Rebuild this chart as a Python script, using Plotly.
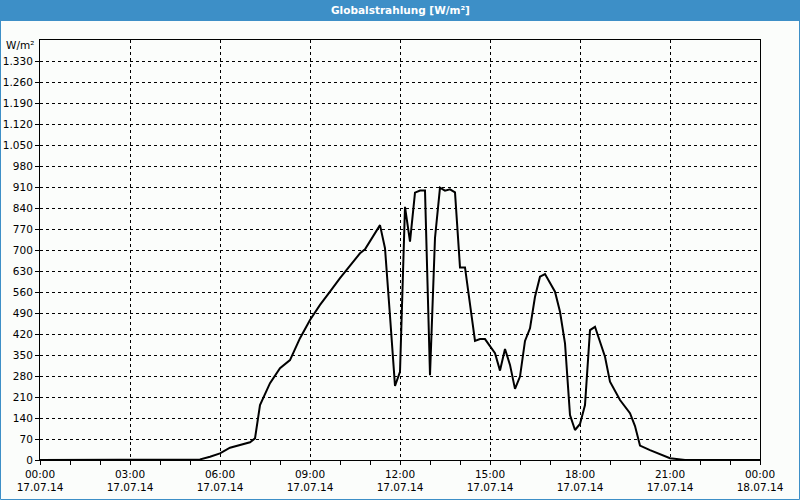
import plotly.graph_objects as go

# ---- data ----
times = ["00:00", "05:10", "05:20", "05:40", "06:00", "06:20", "07:00", "07:10", "07:20",
         "07:40", "08:00", "08:20", "08:40", "09:00", "09:20", "09:40", "10:00", "10:40",
         "10:50", "11:20", "11:30", "11:40", "11:50", "12:00", "12:10", "12:20", "12:30",
         "12:40", "12:50", "13:00", "13:10", "13:20", "13:30", "13:40", "13:50", "14:00",
         "14:10", "14:30", "14:40", "14:50", "15:10", "15:20", "15:30", "15:40", "15:50",
         "16:00", "16:10", "16:20", "16:30", "16:40", "16:50", "17:10", "17:20", "17:30",
         "17:40", "17:50", "18:00", "18:10", "18:20", "18:30", "18:50", "19:00", "19:20",
         "19:40", "19:50", "20:00", "20:20", "21:00", "21:20", "21:30"]
values = [0, 0, 2, 11, 22, 41, 59, 72, 183,
          256, 306, 333, 406, 467, 517, 561, 606, 689,
          702, 783, 706, 480, 247, 294, 844, 728, 891,
          898, 898, 283, 740, 908, 898, 902, 892, 642,
          642, 397, 403, 403, 356, 298, 370, 317, 237,
          278, 397, 439, 544, 611, 620, 561, 494, 389,
          150, 100, 120, 183, 433, 444, 344, 261, 200,
          156, 113, 48, 33, 6, 2, 0]
end_time = "2014-07-18 00:00"
day = "2014-07-17"
y_ticks = list(range(0, 1331, 70))
y_labels = [f"{v:,}".replace(",", ".") for v in y_ticks]

x = [f"{day} {t}" for t in times] + [end_time]
y = values + [0]

BLUE = "#3d8fc7"
BG = "#fbfdfb"
FONT = "DejaVu Sans"
FS = 10.5

fig = go.Figure()
fig.add_trace(go.Scatter(x=x, y=y, mode="lines",
                         line=dict(color="black", width=2), hoverinfo="skip"))

fig.update_layout(
    width=800, height=500,
    margin=dict(l=40, r=40, t=40, b=40, autoexpand=False),
    paper_bgcolor=BG, plot_bgcolor=BG,
    showlegend=False,
    font=dict(family=FONT, size=FS, color="black"),
    xaxis=dict(
        type="date", automargin=False,
        range=[f"{day} 00:00", end_time],
        dtick=3 * 3600 * 1000,
        tick0=f"{day} 00:00",
        tickformat="%H:%M<br>%d.%m.%y",
        showgrid=True, gridcolor="black", gridwidth=1, griddash="3px,3px",
        showline=True, linecolor="black", linewidth=1, mirror=True,
        ticks="outside", ticklen=4, tickcolor="black",
        minor=dict(dtick=3600 * 1000, tick0=f"{day} 00:00", ticks="outside",
                   ticklen=4, tickcolor="black", showgrid=False),
        zeroline=False, fixedrange=True,
        tickfont=dict(family=FONT, size=FS),
    ),
    yaxis=dict(
        automargin=False,
        range=[0, 1400],
        tickvals=y_ticks, ticktext=y_labels,
        showgrid=True, gridcolor="black", gridwidth=1, griddash="3px,3px",
        showline=True, linecolor="black", linewidth=1, mirror=True,
        ticks="outside", ticklen=4, tickcolor="black",
        zeroline=False, fixedrange=True,
        tickfont=dict(family=FONT, size=FS),
    ),
    shapes=[
        # title bar
        dict(type="rect", xref="paper", yref="paper",
             x0=-40 / 720, x1=1 + 40 / 720, y0=1 + 19 / 420, y1=1 + 40 / 420,
             fillcolor=BLUE, line=dict(width=0), layer="below"),
        # outer frame
        dict(type="rect", xref="paper", yref="paper",
             x0=-39.5 / 720, x1=1 + 39.5 / 720, y0=-39.5 / 420, y1=1 + 39.5 / 420,
             fillcolor="rgba(0,0,0,0)", line=dict(color=BLUE, width=1)),
    ],
    annotations=[
        dict(text="<b>Globalstrahlung [W/m²]</b>", xref="paper", yref="paper",
             x=0.5, y=1 + 30 / 420, xanchor="center", yanchor="middle",
             showarrow=False, font=dict(family=FONT, size=FS, color="white")),
        dict(text="W/m²", xref="paper", yref="paper",
             x=-4 / 720, y=1 - 5 / 420, xanchor="right", yanchor="middle",
             showarrow=False, font=dict(family=FONT, size=FS, color="black")),
    ],
)

fig.write_html("out.html")
